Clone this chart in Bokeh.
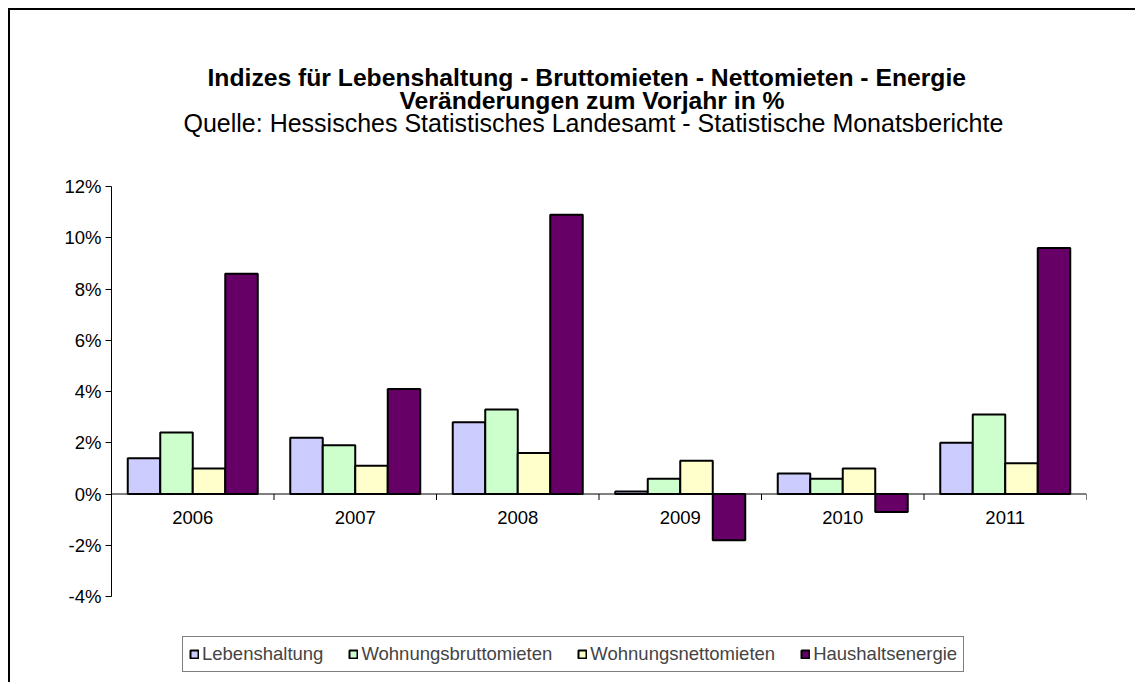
import math
from bokeh.plotting import figure
from bokeh.models import (Range1d, FixedTicker, PrintfTickFormatter, Span, Title,
                          Legend, LegendItem, ColumnDataSource)
from bokeh.core.properties import value
from bokeh.embed import file_html
from bokeh.resources import INLINE

years = ["2006", "2007", "2008", "2009", "2010", "2011"]
series_names = ["Lebenshaltung", "Wohnungsbruttomieten", "Wohnungsnettomieten", "Haushaltsenergie"]
lebenshaltung = [1.4, 2.2, 2.8, 0.1, 0.8, 2.0]
wohnungsbruttomieten = [2.4, 1.9, 3.3, 0.6, 0.6, 3.1]
wohnungsnettomieten = [1.0, 1.1, 1.6, 1.3, 1.0, 1.2]
haushaltsenergie = [8.6, 4.1, 10.9, -1.8, -0.7, 9.6]
y_ticks = [-4, -2, 0, 2, 4, 6, 8, 10, 12]

series_values = [lebenshaltung, wohnungsbruttomieten, wohnungsnettomieten, haushaltsenergie]
colors = ["#CCCCFF", "#CCFFCC", "#FFFFCC", "#660066"]

FONT = "Liberation Sans"

# axis spans -4..12 over 410 px; the frame continues 84 px lower to hold the legend
px_per_unit = 410 / 16
y_min = y_ticks[0] - 84 / px_per_unit

p = figure(width=1127, height=674, output_backend="svg", toolbar_location=None,
           x_range=Range1d(-0.5, len(years) - 0.5), y_range=Range1d(y_min, y_ticks[-1]),
           min_border_left=101, min_border_right=51, min_border_top=176,
           min_border_bottom=4)
p.styles = {"border-left": "2px solid #000", "border-top": "2px solid #000",
            "margin-left": "8px", "margin-top": "8px"}
p.outline_line_color = None
p.xgrid.visible = False
p.ygrid.visible = False
p.xaxis.visible = False

ya = p.yaxis[0]
ya.bounds = (y_ticks[0], y_ticks[-1])
ya.ticker = FixedTicker(ticks=y_ticks)
ya.formatter = PrintfTickFormatter(format="%d%%")
ya.minor_tick_line_color = None
ya.major_tick_in = 0
ya.major_tick_out = 6
ya.axis_line_color = "black"
ya.major_tick_line_color = "black"
ya.major_label_text_font = FONT
ya.major_label_text_font_size = "18.5px"
ya.major_label_text_color = "black"
ya.major_label_standoff = 4

# zero line acting as category axis
p.add_layout(Span(location=0, dimension="width", line_color="black", line_width=1))

n = len(series_names)
bw = 0.8 / n
items = []
for i, (name, vals, col) in enumerate(zip(series_names, series_values, colors)):
    xs = [k - 0.4 + bw * (i + 0.5) for k in range(len(years))]
    src = ColumnDataSource(dict(x=xs, top=vals))
    r = p.vbar(x="x", top="top", bottom=0, width=bw, source=src,
               fill_color=col, line_color="black", line_width=2)
    items.append(LegendItem(label=name, renderers=[r]))

# category tick marks at boundaries
bounds = [k - 0.5 for k in range(len(years) + 1)]
p.ray(x=bounds, y=[0] * len(bounds), length=6, length_units="screen",
      angle=-math.pi / 2, line_color="black", line_width=1)

# category labels below zero line
p.text(x=list(range(len(years))), y=[0] * len(years), text=years,
       text_align="center", text_baseline="top", y_offset=17,
       text_font=value(FONT), text_font_size="18.5px", text_color="black")

legend = Legend(items=items, orientation="horizontal", location=(71, 8))
legend.border_line_color = "black"
legend.border_line_width = 1.5
legend.background_fill_color = "white"
legend.background_fill_alpha = 1
legend.padding = 6
legend.spacing = 25
legend.margin = 0
legend.glyph_width = 10
legend.glyph_height = 10
legend.label_standoff = 3
legend.label_text_font = FONT
legend.label_text_font_size = "18.5px"
legend.label_height = 18
p.add_layout(legend, "center")

spacer = Title(text=" ", text_font_size="10px", standoff=39, vertical_align="middle")
t3 = Title(text="Quelle: Hessisches Statistisches Landesamt - Statistische Monatsberichte",
           align="left", offset=72, text_font=FONT, text_font_size="25px",
           text_color="black", text_font_style="normal", standoff=-6,
           vertical_align="middle")
t2 = Title(text="Veränderungen zum Vorjahr in %", align="left", offset=288,
           text_font=FONT, text_font_size="24.7px", text_font_style="bold",
           text_color="black", standoff=-8.5, vertical_align="middle")
t1 = Title(text="Indizes für Lebenshaltung - Bruttomieten - Nettomieten - Energie",
           align="left", offset=96, text_font=FONT, text_font_size="24.7px",
           text_color="black", text_font_style="bold", standoff=-4.5,
           vertical_align="middle")
p.add_layout(spacer, "above")
p.add_layout(t3, "above")
p.add_layout(t2, "above")
p.add_layout(t1, "above")

open("out.html", "w").write(file_html(p, INLINE))
